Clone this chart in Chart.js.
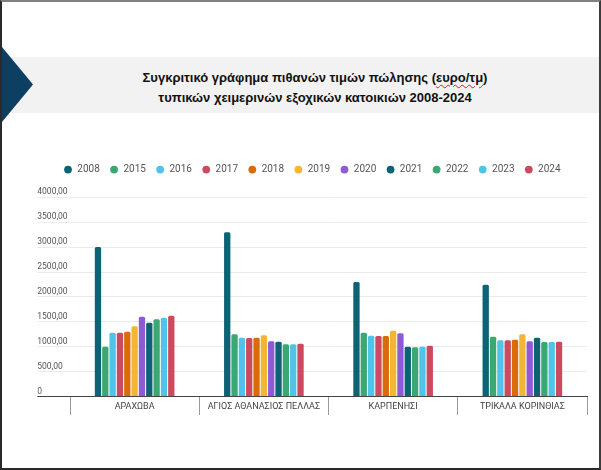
<!DOCTYPE html>
<html><head><meta charset="utf-8">
<script src="https://cdn.jsdelivr.net/npm/chart.js@4/dist/chart.umd.min.js"></script>
<style>
html,body{margin:0;padding:0;background:#fff;}
#wrap{position:relative;width:601px;height:470px;overflow:hidden;}
#frame{position:absolute;left:0;top:0;width:601px;height:470px;box-sizing:border-box;border-top:2px solid #808080;border-left:2px solid #2a2a2a;border-right:2px solid #3c3c3c;border-bottom:2px solid #2a2a2a;}
#band{position:absolute;left:2px;top:57px;width:597px;height:56px;background:#f2f2f2;}
#chev{position:absolute;left:2px;top:47px;width:31px;height:75px;background:#0d3f62;clip-path:polygon(0 0,100% 50%,0 100%);}
#title{position:absolute;left:30px;width:570px;top:68px;text-align:center;font:bold 13px "Liberation Sans",Arial,sans-serif;line-height:20px;color:#111;}
#title .sp{text-decoration:underline wavy #d42020;text-decoration-thickness:1px;text-underline-offset:2px;}
canvas{position:absolute;left:0;top:0;}
</style></head>
<body>
<div id="wrap">
  <div id="band"></div>
  <div id="chev"></div>
  <div id="title">Συγκριτικό γράφημα πιθανών τιμών πώλησης (<span class="sp">ευρο/τμ</span>)<br>τυπικών χειμερινών εξοχικών κατοικιών 2008-2024</div>
  <canvas id="c" width="601" height="470"></canvas>
  <div id="frame"></div>
</div>
<script>
// ---- data ----
const categories = ['ΑΡΑΧΩΒΑ', 'ΑΓΙΟΣ ΑΘΑΝΑΣΙΟΣ ΠΕΛΛΑΣ', 'ΚΑΡΠΕΝΗΣΙ', 'ΤΡΙΚΑΛΑ ΚΟΡΙΝΘΙΑΣ'];
const years = ['2008', '2015', '2016', '2017', '2018', '2019', '2020', '2021', '2022', '2023', '2024'];
const v2008 = [3000, 3300, 2300, 2245];
const v2015 = [1000, 1250, 1280, 1200];
const v2016 = [1280, 1180, 1220, 1130];
const v2017 = [1280, 1175, 1215, 1130];
const v2018 = [1300, 1180, 1215, 1140];
const v2019 = [1410, 1230, 1320, 1250];
const v2020 = [1600, 1110, 1270, 1110];
const v2021 = [1480, 1100, 1000, 1180];
const v2022 = [1550, 1050, 990, 1095];
const v2023 = [1580, 1050, 1000, 1095];
const v2024 = [1620, 1060, 1020, 1100];
const seriesValues = [v2008, v2015, v2016, v2017, v2018, v2019, v2020, v2021, v2022, v2023, v2024];
const yTickValues = [0, 500, 1000, 1500, 2000, 2500, 3000, 3500, 4000];

// ---- styles ----
const palette = ['#0b6374', '#3ba873', '#4fc3e8', '#cc4a5f', '#d96b0a', '#f2b534', '#8f5ad6',
                 '#0b6374', '#3ba873', '#4fc3e8', '#cc4a5f'];

const datasets = years.map((y, i) => ({
  label: y,
  data: seriesValues[i],
  backgroundColor: palette[i],
  borderWidth: 0,
  borderRadius: 1.5,
  categoryPercentage: 0.624,
  barPercentage: 0.86
}));

const legendSpace = {
  id: 'legendSpace',
  beforeLayout(chart) {
    const lg = chart.legend;
    if (lg && !lg.__p) {
      const f = lg.fit;
      lg.fit = function () { f.apply(this, arguments); this.height += 12.7; };
      lg.__p = true;
    }
  }
};

new Chart(document.getElementById('c'), {
  type: 'bar',
  data: { labels: categories, datasets },
  plugins: [legendSpace],
  options: {
    responsive: false,
    animation: false,
    layout: { padding: { top: 154.6, left: 37.3, right: 14, bottom: 43.5 } },
    plugins: {
      title: { display: false },
      tooltip: { enabled: false },
      legend: {
        position: 'top',
        align: 'center',
        labels: {
          usePointStyle: true,
          pointStyle: 'circle',
          boxWidth: 8.6,
          boxHeight: 5.5,
          padding: 10,
          color: '#555',
          font: { family: 'Roboto', size: 10 }
        }
      }
    },
    scales: {
      x: {
        afterFit(s) { s.height = 30; },
        grid: { offset: true, drawOnChartArea: false, drawTicks: true, tickLength: 18.5, color: '#9a9a9a', lineWidth: 1 },
        border: { display: true, color: '#444', width: 1 },
        ticks: { padding: -13.9, color: '#444', maxRotation: 0, autoSkip: false, font: { family: 'Roboto', size: 9 } }
      },
      y: {
        min: 0, max: 4000,
        afterFit(s) { s.width = 32.7; },
        afterBuildTicks(s) { s.ticks = yTickValues.map(v => ({ value: v })); },
        grid: {
          drawTicks: true, tickLength: 32.7,
          color: c => (c.tick && c.tick.value === 0) ? '#444' : '#ebebeb',
          tickColor: c => (c.tick && c.tick.value === 0) ? '#444' : '#ebebeb',
          lineWidth: 1
        },
        border: { display: false },
        ticks: {
          crossAlign: 'far',
          labelOffset: -5,
          padding: 0,
          color: '#555',
          font: { family: 'Roboto', size: 8.5 },
          callback: v => v === 0 ? '0' : v.toFixed(2).replace('.', ',')
        }
      }
    }
  }
});
</script>
</body></html>
